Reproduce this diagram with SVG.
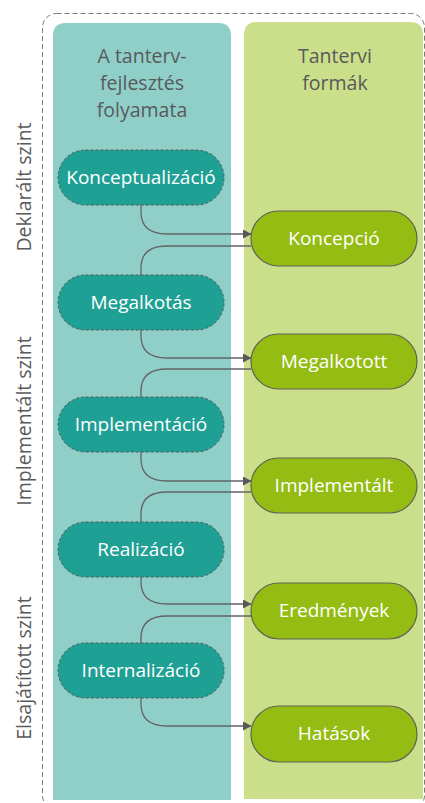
<svg xmlns="http://www.w3.org/2000/svg" width="425" height="803" viewBox="0 0 425 803">
<defs>
<style>
.hdr{font-family:"Open Sans","Noto Sans","Liberation Sans",sans-serif;font-size:19.5px;fill:#58595b;text-anchor:middle}
.side{font-family:"Open Sans","Noto Sans","Liberation Sans",sans-serif;font-size:19.5px;fill:#58595b;text-anchor:middle}
.lbl{font-family:"Open Sans","Noto Sans","Liberation Sans",sans-serif;font-size:19px;fill:#ffffff;text-anchor:middle}
.pn{fill:#1fa094;stroke:#555a5a;stroke-width:1;stroke-dasharray:3 2}
.fn{fill:#95bc12;stroke:#5f6356;stroke-width:1.2}
.cn{fill:none;stroke:#636466;stroke-width:1.3}
</style>
<marker id="ah" markerWidth="9" markerHeight="10" refX="8" refY="4.5" orient="auto" markerUnits="userSpaceOnUse">
<path d="M0,0 L8.5,4.5 L0,9 Z" fill="#58595b"/>
</marker>
</defs>
<rect width="425" height="803" fill="#ffffff"/>
<rect x="42.5" y="13.5" width="382" height="796" rx="14" fill="none" stroke="#7a7a7a" stroke-width="1" stroke-dasharray="5 3"/>
<g id="col-process">
<path d="M53,800 V36 Q53,23 66,23 H218 Q231,23 231,36 V800 Z" fill="#8fcfc8"/>
<text class="hdr" x="142" y="63">A tanterv-</text>
<text class="hdr" x="142" y="90">fejlesztés</text>
<text class="hdr" x="142" y="117">folyamata</text>
</g>
<g id="col-forms">
<path d="M244,799 V35 Q244,22 257,22 H410 Q423,22 423,35 V799 Z" fill="#cbdf8a"/>
<text class="hdr" x="335" y="63">Tantervi</text>
<text class="hdr" x="335" y="90">formák</text>
</g>
<g id="levels">
<text class="side" transform="translate(31,187) rotate(-90)">Deklarált szint</text>
<text class="side" transform="translate(31,421) rotate(-90)">Implementált szint</text>
<text class="side" transform="translate(31,668) rotate(-90)">Elsajátított szint</text>
</g>
<g id="connectors">
<path class="cn" marker-end="url(#ah)" d="M141,205 V212 C141,227 150,234 167,234 H251"/>
<path class="cn" d="M251,246 H167 C150,246 141,253 141,268 V275"/>
<path class="cn" marker-end="url(#ah)" d="M141,330 V336 C141,351 150,358 167,358 H251"/>
<path class="cn" d="M251,369 H167 C150,369 141,376 141,391 V397"/>
<path class="cn" marker-end="url(#ah)" d="M141,452 V459 C141,474 150,481 167,481 H251"/>
<path class="cn" d="M251,492 H167 C150,492 141,499 141,514 V522"/>
<path class="cn" marker-end="url(#ah)" d="M141,577 V582 C141,597 150,604 167,604 H251"/>
<path class="cn" d="M251,616 H167 C150,616 141,623 141,638 V643"/>
<path class="cn" marker-end="url(#ah)" d="M141,698 V704 C141,719 150,726 167,726 H251"/>
</g>
<g id="n-konceptualizacio"><rect class="pn" x="58" y="150" width="166" height="55" rx="27.5"/><text class="lbl" x="141" y="184">Konceptualizáció</text></g>
<g id="n-megalkotas"><rect class="pn" x="58" y="275" width="166" height="55" rx="27.5"/><text class="lbl" x="141" y="309">Megalkotás</text></g>
<g id="n-implementacio"><rect class="pn" x="58" y="397" width="166" height="55" rx="27.5"/><text class="lbl" x="141" y="431">Implementáció</text></g>
<g id="n-realizacio"><rect class="pn" x="58" y="522" width="166" height="55" rx="27.5"/><text class="lbl" x="141" y="556">Realizáció</text></g>
<g id="n-internalizacio"><rect class="pn" x="58" y="643" width="166" height="55" rx="27.5"/><text class="lbl" x="141" y="677">Internalizáció</text></g>
<g id="n-koncepcio"><rect class="fn" x="251" y="211" width="166" height="55" rx="27.5"/><text class="lbl" x="334" y="245">Koncepció</text></g>
<g id="n-megalkotott"><rect class="fn" x="251" y="334" width="166" height="55" rx="27.5"/><text class="lbl" x="334" y="368">Megalkotott</text></g>
<g id="n-implementalt"><rect class="fn" x="251" y="458" width="166" height="55" rx="27.5"/><text class="lbl" x="334" y="492">Implementált</text></g>
<g id="n-eredmenyek"><rect class="fn" x="251" y="583" width="166" height="56" rx="28"/><text class="lbl" x="334" y="617">Eredmények</text></g>
<g id="n-hatasok"><rect class="fn" x="251" y="706" width="166" height="56" rx="28"/><text class="lbl" x="334" y="740">Hatások</text></g>
</svg>
